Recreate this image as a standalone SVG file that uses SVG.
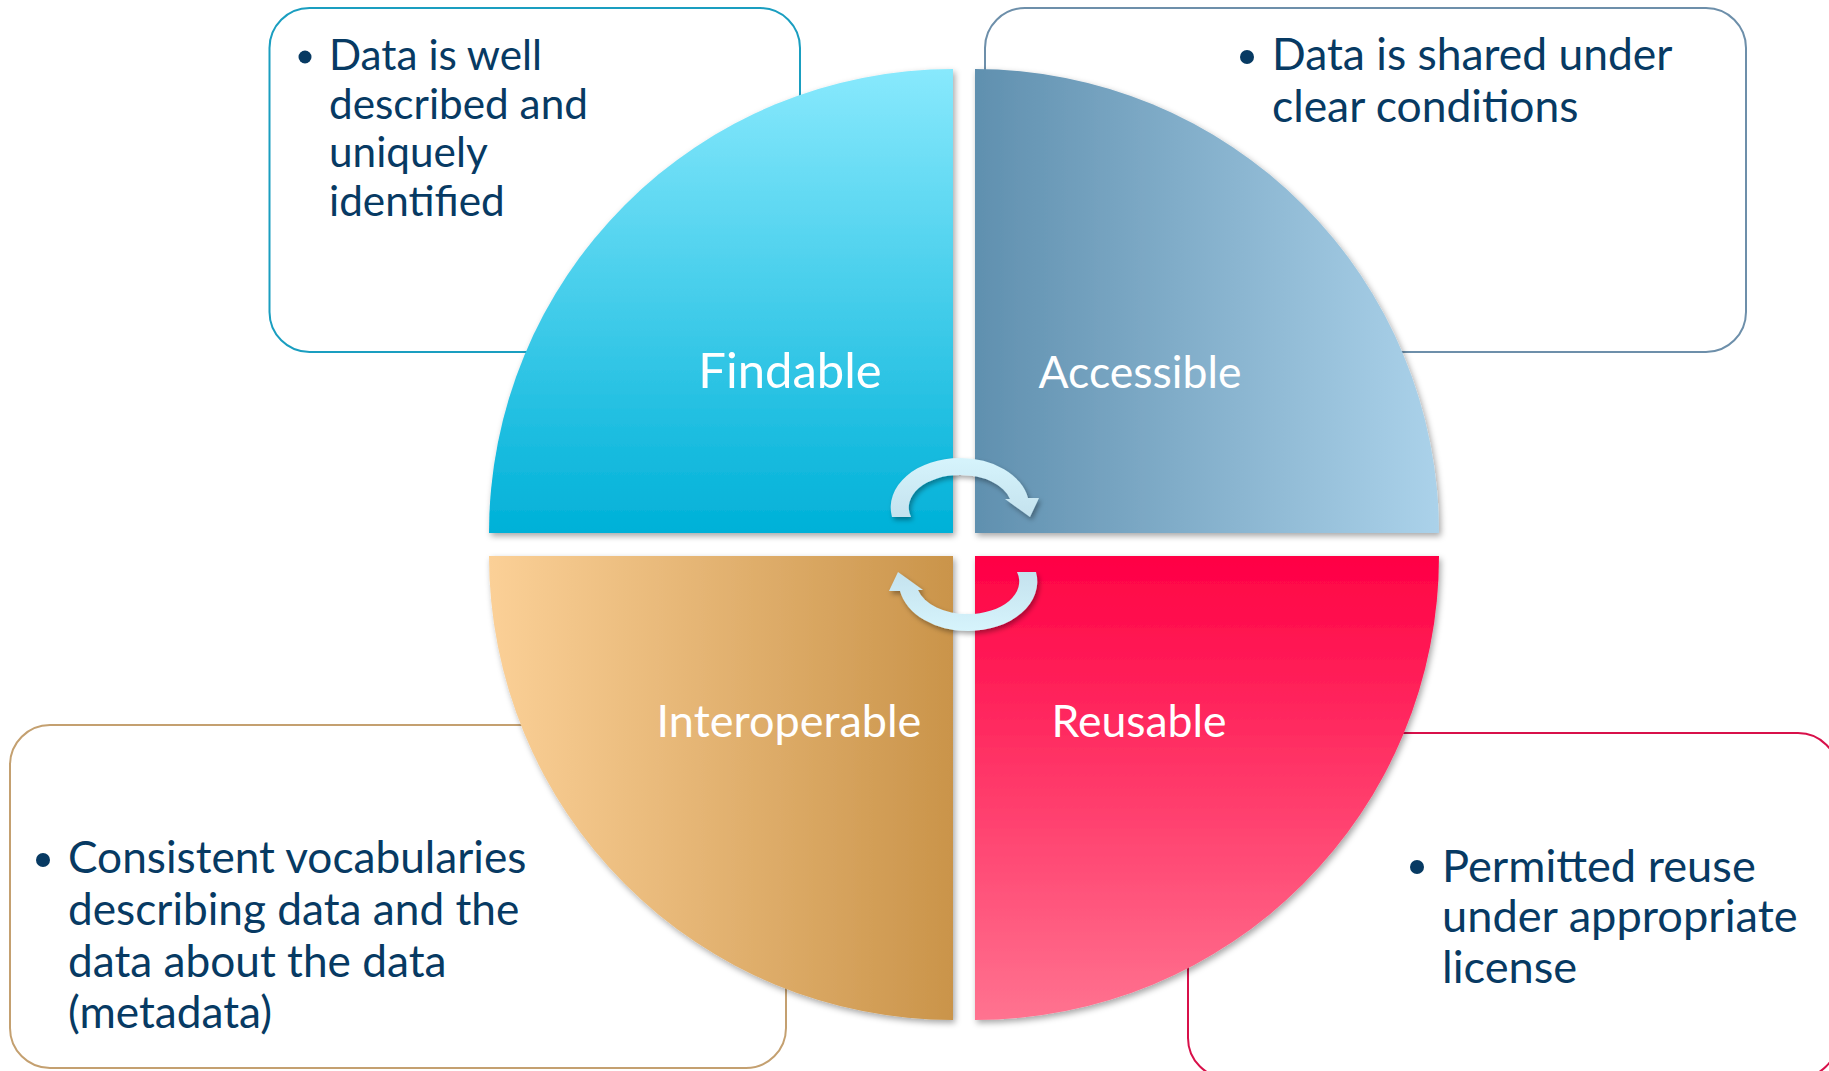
<svg xmlns="http://www.w3.org/2000/svg" xmlns:xlink="http://www.w3.org/1999/xlink" width="1829" height="1071" viewBox="0 0 1829 1071">
  <style>
    .box { fill: #ffffff; stroke-width: 2; }
    .body { font-family: Lato, "Liberation Sans", sans-serif; fill: #073A63; }
    .bullet { fill: #073A63; }
    .label { font-family: Lato, "Liberation Sans", sans-serif; fill: #ffffff; text-anchor: middle; }
  </style>
  <defs>
    <linearGradient id="gF" x1="0" y1="0" x2="0" y2="1">
      <stop offset="0" stop-color="#88E9FD"/>
      <stop offset="1" stop-color="#00B1D8"/>
    </linearGradient>
    <linearGradient id="gA" x1="0" y1="0" x2="1" y2="0">
      <stop offset="0" stop-color="#6090AF"/>
      <stop offset="1" stop-color="#ABD2EA"/>
    </linearGradient>
    <linearGradient id="gI" x1="0" y1="0" x2="1" y2="0">
      <stop offset="0" stop-color="#FBD097"/>
      <stop offset="1" stop-color="#CA944A"/>
    </linearGradient>
    <linearGradient id="gR" x1="0" y1="0" x2="0" y2="1">
      <stop offset="0" stop-color="#FF0044"/>
      <stop offset="1" stop-color="#FF7390"/>
    </linearGradient>
    <linearGradient id="gArrow" x1="0" y1="0" x2="0" y2="1">
      <stop offset="0" stop-color="#D6F4FC"/>
      <stop offset="1" stop-color="#C4E2EE"/>
    </linearGradient>
    <filter id="shadow" x="-10%" y="-10%" width="125%" height="125%">
      <feDropShadow dx="2" dy="3" stdDeviation="3" flood-color="#000000" flood-opacity="0.35"/>
    </filter>
    <filter id="ashadow" x="-20%" y="-20%" width="150%" height="160%">
      <feDropShadow dx="2" dy="3" stdDeviation="2.5" flood-color="#000000" flood-opacity="0.35"/>
    </filter>
    <path id="arrow" d="M 892,517 A 69 49.5 0 0 1 960,458 A 69 49.5 0 0 1 1028,498 L 1039,498 L 1030,517 L 1005,499 L 1010,499 A 51 32.5 0 0 0 960,475 A 51 32.5 0 0 0 911,517 Z" fill="url(#gArrow)"/>
  </defs>

  <g id="box-findable">
    <rect class="box" x="269.5" y="8" width="530.5" height="344" rx="40" stroke="#1A9EC0"/>
    <circle class="bullet" cx="305" cy="57" r="6.5"/>
    <text class="body" font-size="42.3" x="329">
      <tspan x="329" y="70">Data is well</tspan>
      <tspan x="329" y="118.5">described and</tspan>
      <tspan x="329" y="167">uniquely</tspan>
      <tspan x="329" y="215.5">identified</tspan>
    </text>
  </g>

  <g id="box-accessible">
    <rect class="box" x="985" y="8" width="761" height="344" rx="40" stroke="#6D8FAA"/>
    <circle class="bullet" cx="1247" cy="57" r="7"/>
    <text class="body" font-size="44.4" x="1272">
      <tspan x="1272" y="70">Data is shared under</tspan>
      <tspan x="1272" y="121.5">clear conditions</tspan>
    </text>
  </g>

  <g id="box-interoperable">
    <rect class="box" x="10" y="725" width="776" height="343" rx="40" stroke="#C4A070"/>
    <circle class="bullet" cx="43" cy="860" r="7"/>
    <text class="body" font-size="44.2" x="68">
      <tspan x="68" y="873">Consistent vocabularies</tspan>
      <tspan x="68" y="925">describing data and the</tspan>
      <tspan x="68" y="977">data about the data</tspan>
      <tspan x="68" y="1028">(metadata)</tspan>
    </text>
  </g>

  <g id="box-reusable">
    <rect class="box" x="1188" y="733" width="650" height="345" rx="40" stroke="#D8104A"/>
    <circle class="bullet" cx="1417" cy="867" r="7"/>
    <text class="body" font-size="45.2" x="1442">
      <tspan x="1442" y="882">Permitted reuse</tspan>
      <tspan x="1442" y="932">under appropriate</tspan>
      <tspan x="1442" y="983">license</tspan>
    </text>
  </g>

  <g id="findable">
    <path d="M 953,533 L 489,533 A 464 464 0 0 1 953,69 Z" fill="url(#gF)" filter="url(#shadow)"/>
    <text class="label" font-size="49" x="790" y="388">Findable</text>
  </g>

  <g id="accessible">
    <path d="M 975,533 L 975,69 A 464 464 0 0 1 1439,533 Z" fill="url(#gA)" filter="url(#shadow)"/>
    <text class="label" font-size="44.5" x="1140" y="388">Accessible</text>
  </g>

  <g id="interoperable">
    <path d="M 953,556 L 953,1020 A 464 464 0 0 1 489,556 Z" fill="url(#gI)" filter="url(#shadow)"/>
    <text class="label" font-size="45" x="789" y="737">Interoperable</text>
  </g>

  <g id="reusable">
    <path d="M 975,556 L 1439,556 A 464 464 0 0 1 975,1020 Z" fill="url(#gR)" filter="url(#shadow)"/>
    <text class="label" font-size="44.5" x="1139" y="737">Reusable</text>
  </g>

  <g id="connectors">
    <g filter="url(#ashadow)">
      <use xlink:href="#arrow"/>
    </g>
    <g filter="url(#ashadow)">
      <use xlink:href="#arrow" transform="rotate(180 964 544.5)"/>
    </g>
  </g>
</svg>
